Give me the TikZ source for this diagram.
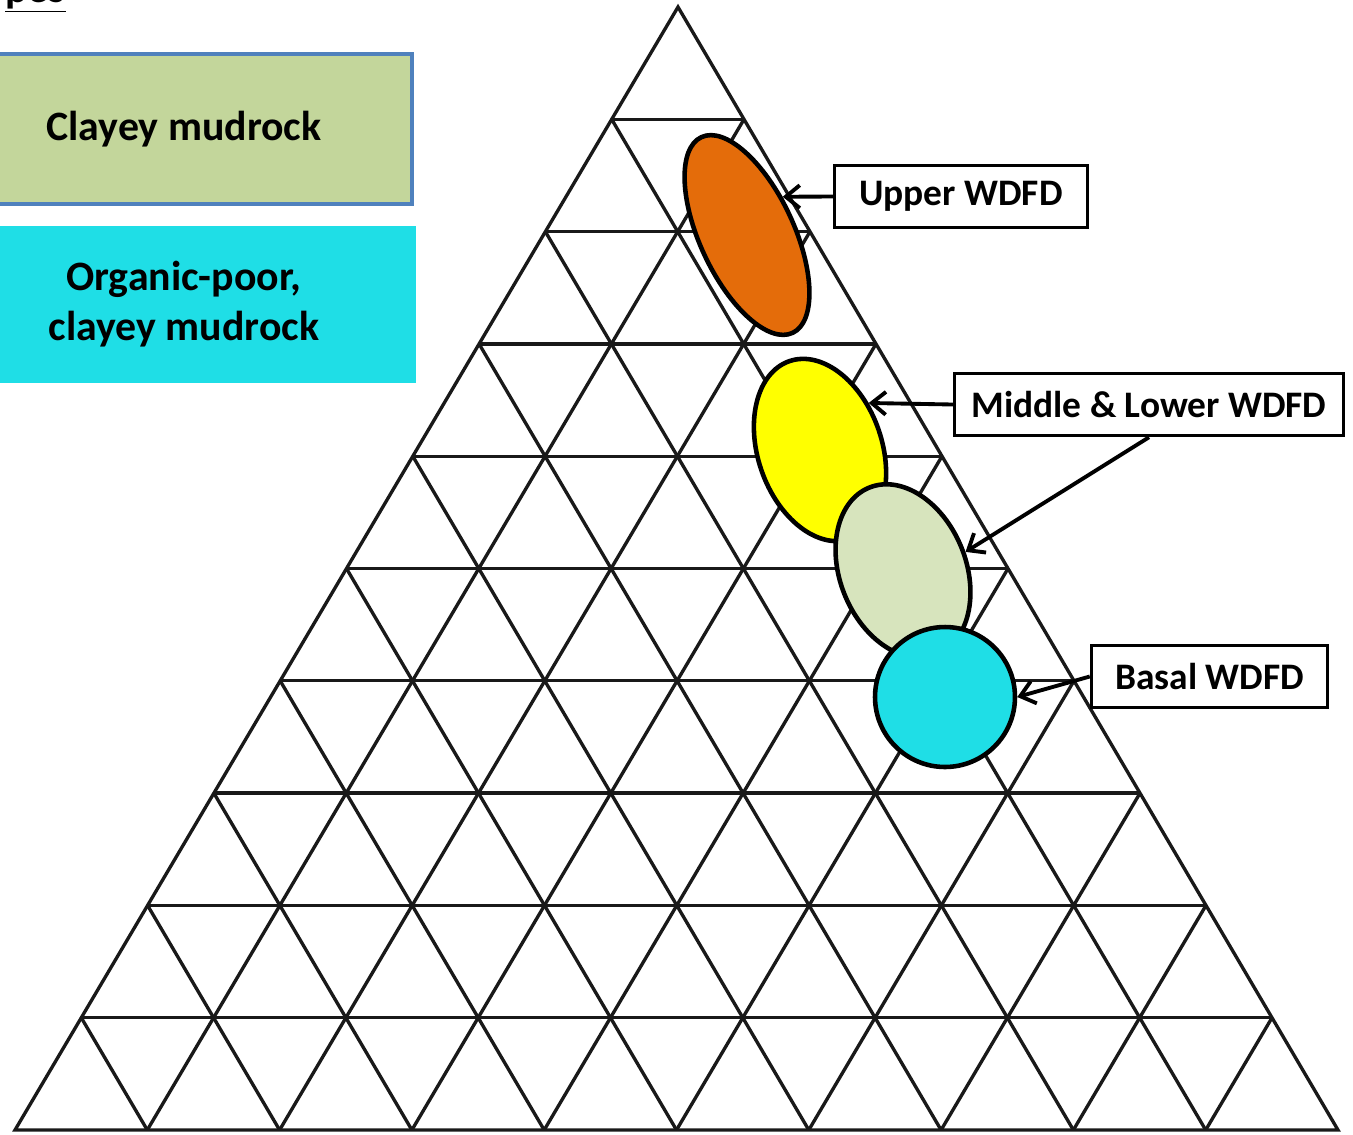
\documentclass[tikz,border=0pt]{standalone}
\usepackage{fontspec}
\setmainfont{Carlito}
\usetikzlibrary{calc,shapes.geometric,arrows.meta}
\definecolor{upperorange}{HTML}{E46C0A}
\definecolor{midyellow}{HTML}{FFFF00}
\definecolor{lowergreen}{HTML}{D7E4BD}
\definecolor{basalcyan}{HTML}{1FDEE6}
\definecolor{claygreen}{HTML}{C3D69B}
\definecolor{keyblue}{HTML}{4F81BD}
\begin{document}
\begin{tikzpicture}[x=0.02cm, y=-0.02cm,
  >={Straight Barb[length=8pt,width=13pt]},
  grid/.style={draw=black!90, line width=1.9pt},
  blob/.style={draw, ellipse, line width=2.6pt, inner sep=0pt},
  lbl/.style={draw, line width=2pt, fill=white, inner sep=0pt, minimum height=1.24cm, font=\fontsize{21.3}{25}\selectfont\bfseries},
  key/.style={align=center, inner sep=0pt, font=\fontsize{23.8}{28.4}\selectfont\bfseries},
  arr/.style={->, line width=2.2pt}]
\useasboundingbox (0,0) rectangle (1353,1134);
\fill[white] (0,0) rectangle (1353,1134);
% key boxes
\node[anchor=south east, inner sep=0pt, font=\fontsize{23.8}{28.4}\selectfont\bfseries] (title) at (66,13) {\underline{pes}};
\node[key, draw=keyblue, line width=2.3pt, fill=claygreen, minimum width=9.12cm, minimum height=3.0cm] (clay) at (184,129) {Clayey mudrock};
\node[key, fill=basalcyan, minimum width=9.28cm, minimum height=3.14cm] (organic) at (184,304.5) {Organic-poor,\\clayey mudrock};
% ternary grid
\coordinate (A) at (15,1130);
\coordinate (B) at (1338,1130);
\coordinate (C) at (678,7);
\draw[grid] (A) -- (B) -- (C) -- cycle;
\foreach \k in {1,...,9} {
  \draw[grid] ($(A)!\k/10!(C)$) -- ($(B)!\k/10!(C)$);
  \draw[grid] ($(A)!\k/10!(B)$) -- ($(C)!\k/10!(B)$);
  \draw[grid] ($(A)!\k/10!(B)$) -- ($(A)!\k/10!(C)$);
}
% fields
\node[blob, fill=upperorange, minimum width=1.88cm, minimum height=4.32cm, rotate=25] (upper) at (747,235) {};
\node[blob, fill=midyellow, minimum width=2.48cm, minimum height=3.76cm, rotate=19] (middle) at (820,450) {};
\node[blob, fill=lowergreen, minimum width=2.52cm, minimum height=3.6cm, rotate=22] (lower) at (903,571) {};
\node[blob, circle, fill=basalcyan, minimum size=2.8cm] (basal) at (945,697) {};
% labels
\node[lbl, minimum width=5.06cm] (upperlbl) at (961,196.5) {Upper WDFD\hspace{0.3cm}};
\node[lbl, minimum width=7.78cm] (midlbl) at (1149,404.5) {Middle \& Lower WDFD\hspace{0.3cm}};
\node[lbl, minimum width=4.72cm] (basallbl) at (1209.5,676.5) {Basal WDFD\hspace{0.2cm}};
\draw[arr] (upperlbl.west) -- (upper.22);
\draw[arr] (midlbl.west) -- (middle.25);
\draw[arr] (midlbl.south) -- (lower.355);
\draw[arr] (basallbl.west) -- (basal.east);
\end{tikzpicture}
\end{document}
